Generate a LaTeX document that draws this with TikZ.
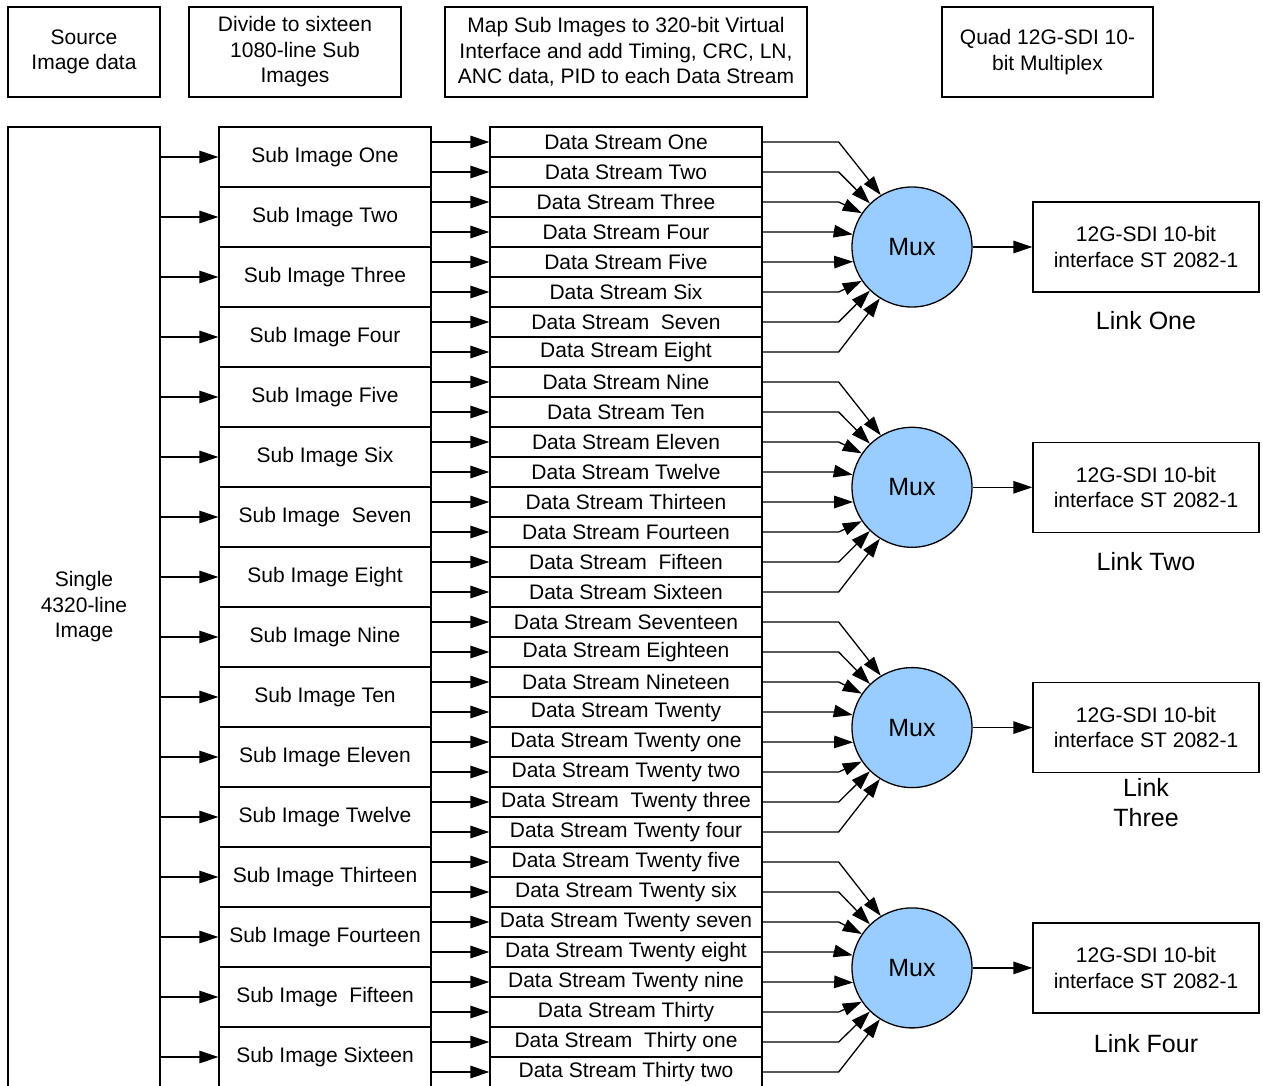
\documentclass[tikz,border=0pt]{standalone}
\usepackage{fontspec}
\setmainfont{Liberation Sans}
\usetikzlibrary{arrows.meta}
\definecolor{muxblue}{RGB}{153,204,255}
\begin{document}
\begin{tikzpicture}[x=1pt,y=-1pt,
  every node/.style={font=\fontsize{21}{25.5}\selectfont, inner sep=0pt},
  box/.style={draw, line width=1.3pt, align=center},
  hdr/.style={box, minimum height=90pt},
  subbox/.style={box, minimum width=212pt, minimum height=60pt},
  dsbox/.style={box, minimum width=272pt, minimum height=30pt},
  muxnode/.style={circle, draw, line width=1.3pt, fill=muxblue, minimum size=120pt, font=\fontsize{25}{30}\selectfont},
  outbox/.style={box, minimum width=226pt, minimum height=90pt},
  linklbl/.style={align=center, font=\fontsize{25}{30}\selectfont},
  arr/.style={line width=1.3pt, -{Triangle[length=19pt,width=12.5pt]}}
]
\useasboundingbox (0,0) rectangle (1263,1086);

% header boxes
\node[hdr, minimum width=152pt] (hsrc) at (84,52) {Source\\Image data};
\node[hdr, minimum width=212pt] (hdiv) at (295,52) {Divide to sixteen\\1080-line Sub\\Images};
\node[hdr, minimum width=362pt] (hmap) at (626,52) {Map Sub Images to 320-bit Virtual\\Interface and add Timing, CRC, LN,\\ANC data, PID to each Data Stream};
\node[hdr, minimum width=211pt] (hquad) at (1047.5,52) {Quad 12G-SDI 10-\\bit Multiplex};

% big source box
\node[box, minimum width=152pt, minimum height=960pt] (big) at (84,607) {Single\\4320-line\\Image};

% sub images
\foreach \name [count=\i from 0] in {One,Two,Three,Four,Five,Six,{~Seven},Eight,Nine,Ten,Eleven,Twelve,Thirteen,Fourteen,{~Fifteen},Sixteen}{
  \node[subbox] (si\i) at (325,157+60*\i) {Sub Image \name};
  \draw[arr] (big.east |- si\i.west) -- (si\i.west);
}

% data streams
\foreach \name [count=\j from 0] in {One,Two,Three,Four,Five,Six,{~Seven},Eight,Nine,Ten,Eleven,Twelve,Thirteen,Fourteen,{~Fifteen},Sixteen,Seventeen,Eighteen,Nineteen,Twenty,Twenty one,Twenty two,{~Twenty three},Twenty four,Twenty five,Twenty six,Twenty seven,Twenty eight,Twenty nine,Thirty,{~Thirty one},Thirty two}{
  \node[dsbox] (ds\j) at (626,142+30*\j) {Data Stream \name};
}
\foreach \j in {0,...,31}{
  \pgfmathtruncatemacro{\s}{int(\j/2)}
  \draw[arr] (si\s.east |- ds\j.west) -- (ds\j.west);
}

% muxes, outputs
\foreach \k in {0,1,2,3}{
  \node[muxnode] (mux\k) at (912,247+240.3*\k) {Mux};
  \node[outbox] (out\k) at (1146,247+240.3*\k) {12G-SDI 10-bit\\interface ST 2082-1};
  \draw[arr] (mux\k.east) -- (out\k.west);
  \foreach \a [count=\m from 0] in {121,134,146,168,194,214,226,238}{
    \pgfmathtruncatemacro{\j}{8*\k+\m}
    \draw[arr] (ds\j.east) -- ++(76,0) -- (mux\k.\a);
  }
}

\node[linklbl] (l1) at (1146,321) {Link One};
\node[linklbl] (l2) at (1146,562) {Link Two};
\node[linklbl] (l3) at (1146,803) {Link\\Three};
\node[linklbl] (l4) at (1146,1044) {Link Four};
\end{tikzpicture}
\end{document}
